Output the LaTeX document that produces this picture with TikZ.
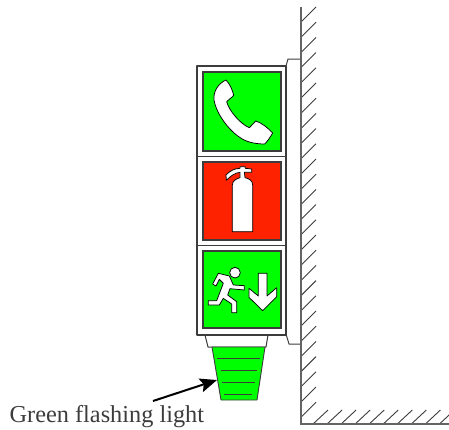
\documentclass[tikz,border=0pt]{standalone}
\usepackage{fontspec}
\setmainfont{Liberation Serif}
\usetikzlibrary{arrows.meta}
\definecolor{signgreen}{RGB}{0,255,0}
\definecolor{signred}{RGB}{255,34,0}
\definecolor{ink}{RGB}{60,60,60}
\definecolor{wallgray}{RGB}{100,100,100}
\tikzset{
  housing/.style={draw=ink,fill=white,line width=1.35pt,line join=round},
  panel/.style={draw=ink,line width=1.2pt},
  glyph/.style={draw=black,fill=white,line width=.75pt,line join=round},
  hatchline/.style={draw=ink,line width=.9pt},
  wall/.style={draw=wallgray,line width=1.9pt},
  rib/.style={draw=ink,line width=1pt},
  zoomed/.style={x=.3333pt,y=-.3333pt}
}
\begin{document}
\begin{tikzpicture}[x=1pt,y=-1pt]
\useasboundingbox (0,0) rectangle (449,429);
% wall hatching
\foreach \i in {0,...,26}{
  \draw[hatchline] (301,{22+\i*15.2}) -- (316,{7+\i*15.2});
}
\begin{scope}
\clip (301,405) rectangle (449,425);
\foreach \i in {0,...,10}{
  \draw[hatchline] ({313+\i*14.05},424) -- ({328+\i*14.05},410);
}
\end{scope}
% bracket
\draw[housing,line width=1pt] (286,66) -- (288,59) -- (301,59) -- (301,344) -- (289,344) -- (286,334) -- cycle;
% wall
\draw[wall] (301,7) -- (301,424) -- (449,424);
% collar and lens
\draw[housing,line width=1pt] (205,335) -- (268,335) -- (266,347) -- (208,347) -- cycle;
\draw[draw=ink,fill=signgreen,line width=.9pt,line join=round] (212,347) -- (265,347) -- (257,400) -- (221,400) -- cycle;
\draw[rib] (217,358.5) -- (260,358.5);
\draw[rib] (220.5,370.5) -- (257,370.5);
\draw[rib] (222,382.5) -- (255,382.5);
\draw[rib] (224,394.5) -- (252,394.5);
% housing
\draw[housing] (197,66) rectangle (286,335);
\draw[housing] (197,156.5) -- (286,156.5);
\draw[housing] (197,245.5) -- (286,245.5);
% panels
\fill[signgreen,panel] (203,72) rectangle (281,151);
\fill[signred,panel] (203,162) rectangle (281,240);
\fill[signgreen,panel] (203,251) rectangle (281,328);
% telephone
\begin{scope}[shift={(190,50)},zoomed]
\draw[glyph] (108,90) .. controls (118,100) and (128,120) .. (131,136)
  .. controls (124,145) and (115,148) .. (110,155)
  .. controls (116,180) and (150,222) .. (178,233)
  .. controls (186,228) and (190,218) .. (197,213)
  .. controls (215,218) and (235,235) .. (248,249)
  .. controls (240,262) and (232,275) .. (224,282)
  .. controls (200,282) and (175,278) .. (155,266)
  .. controls (120,245) and (80,195) .. (72,150)
  .. controls (69,125) and (85,100) .. (108,90) -- cycle;
\end{scope}
% extinguisher
\begin{scope}[shift={(190,150)},zoomed]
\draw[glyph] (127,245) -- (127,105) .. controls (127,92) and (140,86) .. (150,83)
  -- (150,67) .. controls (135,68) and (122,78) .. (109,91)
  -- (108,75) .. controls (120,62) and (135,55) .. (150,55)
  -- (150,50) -- (166,50) -- (166,55) -- (185,57) -- (185,67) -- (163,67) -- (165,83)
  .. controls (178,86) and (188,92) .. (188,105) -- (188,245) -- cycle;
\end{scope}
% runner and arrow
\begin{scope}[shift={(190,240)},zoomed]
\draw[glyph] (68,132) -- (85,100) -- (118,108) -- (130,135) -- (163,137) -- (163,150)
  -- (120,146) -- (113,165) -- (140,185) -- (140,218) -- (125,218) -- (125,192)
  -- (100,175) -- (88,195) -- (55,195) -- (55,182) -- (80,182) -- (100,130) -- (88,118) -- (78,138) -- cycle;
\draw[glyph] (135,98) circle [radius=16];
\draw[glyph] (177,145) -- (205,168) -- (205,100) -- (231,100) -- (231,168) -- (260,143)
  -- (260,170) -- (218,212) -- (177,172) -- cycle;
\end{scope}
% label and pointer
\node[anchor=base west,inner sep=0pt,font=\fontsize{24.3}{27}\selectfont,text=ink] (lbl) at (9.5,422) {Green flashing light};
\coordinate (tailpt) at (153,401);
\coordinate (lenspt) at (217,380);
\draw[-{Stealth[length=17pt,width=14pt,inset=3pt]},line width=2pt,black] (tailpt) -- (lenspt);
\end{tikzpicture}
\end{document}
